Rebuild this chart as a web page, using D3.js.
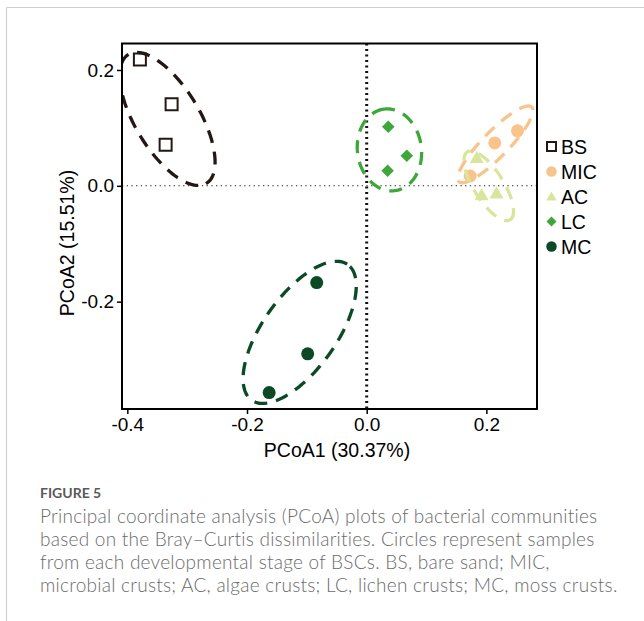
<!DOCTYPE html>
<html>
<head>
<meta charset="utf-8">
<script src="https://cdn.jsdelivr.net/npm/d3@7"></script>
<style>
  html, body { margin: 0; padding: 0; background: #fff; }
  svg { display: block; }
</style>
</head>
<body>
<svg id="chart" width="644" height="621"></svg>
<script>
// ---------- data ----------
const groups = ["BS", "MIC", "AC", "LC", "MC"];
const groupColors = ["#231815", "#F8C48C", "#DAE59C", "#3DA73A", "#0B4A24"];
const groupShapes = ["square", "circle", "triangle", "diamond", "circle"];

const pcoa1 = {
  BS:  [-0.379, -0.326, -0.336],
  MIC: [0.173, 0.214, 0.252],
  AC:  [0.184, 0.192, 0.217],
  LC:  [0.036, 0.067, 0.035],
  MC:  [-0.0835, -0.0986, -0.163]
};
const pcoa2 = {
  BS:  [0.218, 0.141, 0.071],
  MIC: [0.017, 0.074, 0.095],
  AC:  [0.048, -0.016, -0.013],
  LC:  [0.102, 0.052, 0.026],
  MC:  [-0.167, -0.290, -0.357]
};
// ellipse: centre x, centre y, semi-major, semi-minor (data units), rotation (deg, data space)
const ellipseCx    = [-0.333, 0.215, 0.204, 0.038, -0.112];
const ellipseCy    = [0.1155, 0.0716, 0.000, 0.062, -0.253];
const ellipseA     = [0.129, 0.0886, 0.0687, 0.071, 0.142];
const ellipseB     = [0.054, 0.022, 0.025, 0.0535, 0.062];
const ellipseAngle = [-60, 46.8, -58.9, 97, 56];

const xTicks = [-0.4, -0.2, 0.0, 0.2];
const yTicks = [-0.2, 0.0, 0.2];
const xTitle = "PCoA1 (30.37%)";
const yTitle = "PCoA2 (15.51%)";
const figLabel = "FIGURE 5";
const captionLines = [
  "Principal coordinate analysis (PCoA) plots of bacterial communities",
  "based on the Bray\u2013Curtis dissimilarities. Circles represent samples",
  "from each developmental stage of BSCs. BS, bare sand; MIC,",
  "microbial crusts; AC, algae crusts; LC, lichen crusts; MC, moss crusts."
];

// ---------- layout ----------
const svg = d3.select("#chart");
const plot = { left: 122, right: 537, top: 43.5, bottom: 409 };

const x = d3.scaleLinear().domain([-0.4089, 0.2846]).range([plot.left, plot.right]);
const y = d3.scaleLinear().domain([-0.3853, 0.2457]).range([plot.bottom, plot.top]);

// page border
svg.append("line").attr("x1", 6.5).attr("x2", 644).attr("y1", 7.5).attr("y2", 7.5)
  .attr("stroke", "#cfcfcf").attr("stroke-width", 1.2);
svg.append("line").attr("x1", 6.5).attr("x2", 6.5).attr("y1", 7.5).attr("y2", 621)
  .attr("stroke", "#cfcfcf").attr("stroke-width", 1.2);

svg.append("defs").append("clipPath").attr("id", "plotclip")
  .append("rect").attr("x", plot.left).attr("y", plot.top)
  .attr("width", plot.right - plot.left).attr("height", plot.bottom - plot.top);

const g = svg.append("g").attr("clip-path", "url(#plotclip)");

// reference lines
g.append("line").attr("x1", plot.left).attr("x2", plot.right)
  .attr("y1", y(0)).attr("y2", y(0))
  .attr("stroke", "#222").attr("stroke-width", 1.1).attr("stroke-dasharray", "1.3,3.4");
g.append("line").attr("x1", x(0)).attr("x2", x(0))
  .attr("y1", plot.top).attr("y2", plot.bottom)
  .attr("stroke", "#111").attr("stroke-width", 3).attr("stroke-dasharray", "2,3.5");

// symbols
function symPath(shape, s) {
  if (shape === "square") return d3.symbol().type(d3.symbolSquare).size(s * s)();
  if (shape === "circle") return d3.symbol().type(d3.symbolCircle).size(Math.PI * s * s / 4)();
  if (shape === "triangle") return d3.symbol().type(d3.symbolTriangle).size(Math.sqrt(3) / 4 * s * s)();
  if (shape === "diamond") return d3.symbol().type(d3.symbolSquare).size(s * s / 2)();
  return null;
}
const plotSize = { square: 12, circle: 13, triangle: 14, diamond: 12.5 };
const legSize  = { square: 9, circle: 10.5, triangle: 10.5, diamond: 10 };

function drawSym(sel, shape, color, s, cx, cy) {
  const p = sel.append("path").attr("d", symPath(shape, s));
  let tr = `translate(${cx},${cy})`;
  if (shape === "diamond") tr += " rotate(45)";
  if (shape === "triangle") tr += " translate(0,1)";
  p.attr("transform", tr);
  if (shape === "square") {
    p.attr("fill", "none").attr("stroke", color).attr("stroke-width", 2);
  } else {
    p.attr("fill", color);
  }
  return p;
}

groups.forEach((grp, i) => {
  pcoa1[grp].forEach((vx, j) => {
    drawSym(g, groupShapes[i], groupColors[i], plotSize[groupShapes[i]], x(vx), y(pcoa2[grp][j]));
  });
});

// ellipses
const line = d3.line().x(d => x(d[0])).y(d => y(d[1]));
groups.forEach((grp, i) => {
  const th = ellipseAngle[i] * Math.PI / 180;
  const pts = d3.range(0, 361, 3).map(deg => {
    const t = deg * Math.PI / 180;
    const ca = ellipseA[i] * Math.cos(t), sb = ellipseB[i] * Math.sin(t);
    return [ellipseCx[i] + ca * Math.cos(th) - sb * Math.sin(th),
            ellipseCy[i] + ca * Math.sin(th) + sb * Math.cos(th)];
  });
  g.append("path").attr("d", line(pts))
    .attr("fill", "none").attr("stroke", groupColors[i])
    .attr("stroke-width", 3.3).attr("stroke-dasharray", "13,9");
});

// frame
svg.append("rect").attr("x", plot.left).attr("y", plot.top)
  .attr("width", plot.right - plot.left).attr("height", plot.bottom - plot.top)
  .attr("fill", "none").attr("stroke", "#000").attr("stroke-width", 2);

// axes
const font = "'Liberation Sans', Arial, sans-serif";
const xAxis = svg.append("g").attr("transform", `translate(0,${plot.bottom})`)
  .call(d3.axisBottom(x).tickValues(xTicks).tickFormat(d3.format(".1f")).tickSize(5).tickPadding(4));
const yAxis = svg.append("g").attr("transform", `translate(${plot.left},0)`)
  .call(d3.axisLeft(y).tickValues(yTicks).tickFormat(d3.format(".1f")).tickSize(5).tickPadding(3));
[xAxis, yAxis].forEach(a => {
  a.select(".domain").remove();
  a.selectAll(".tick line").attr("stroke", "#000").attr("stroke-width", 1.5);
  a.selectAll(".tick text").attr("fill", "#000").style("font-family", font).style("font-size", "19px");
});
xAxis.selectAll(".tick text").text(d => d3.format(".1f")(d).replace("\u2212", "-"));
yAxis.selectAll(".tick text").text(d => d3.format(".1f")(d).replace("\u2212", "-"));

svg.append("text").attr("x", 337).attr("y", 457).attr("text-anchor", "middle")
  .style("font-family", font).style("font-size", "19.5px").attr("fill", "#000").text(xTitle);
svg.append("text").attr("transform", "translate(74,243) rotate(-90)").attr("text-anchor", "middle")
  .style("font-family", font).style("font-size", "19.5px").attr("fill", "#000").text(yTitle);

// legend
const leg = svg.append("g");
groups.forEach((grp, i) => {
  const cy = 146.5 + i * 25;
  drawSym(leg, groupShapes[i], groupColors[i], legSize[groupShapes[i]], 551.5, cy);
  leg.append("text").attr("x", 561).attr("y", cy + 7)
    .style("font-family", font).style("font-size", "19.5px").attr("fill", "#000").text(grp);
});

// caption
const capFont = "Lato, 'Open Sans', sans-serif";
svg.append("text").attr("x", 40).attr("y", 498)
  .style("font-family", capFont).style("font-size", "14px").style("font-weight", 700)
  .attr("fill", "#5a5a5a").text(figLabel);
const cap = svg.append("g");
captionLines.forEach((t, i) => {
  cap.append("text").attr("x", 40).attr("y", 523 + i * 23)
    .style("font-family", capFont).style("font-size", "19px").style("font-weight", 300)
    .style("letter-spacing", "0.25px")
    .attr("fill", "#6b6b6b").text(t);
});
</script>
</body>
</html>
